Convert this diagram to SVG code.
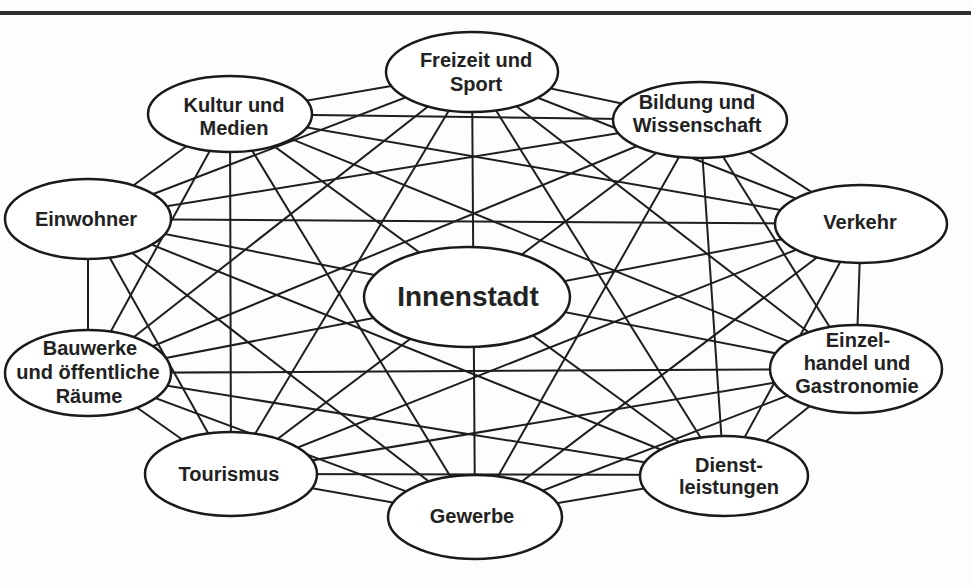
<svg xmlns="http://www.w3.org/2000/svg" width="971" height="587" viewBox="0 0 971 587">
<style>
.bg{fill:#fdfdfd}
.top{stroke:#2e2e2e;stroke-width:4}
.c line{stroke:#1e1e1e;stroke-width:2;stroke-linecap:round}
.n ellipse{fill:#fff;stroke:#1a1a1a;stroke-width:2.5}
.n text{font-family:"Liberation Sans",Arial,sans-serif;font-weight:bold;font-size:20px;fill:#222;text-anchor:middle}
#innenstadt text{font-size:28px}
</style>
<rect class="bg" x="0" y="0" width="971" height="587"/>
<line class="top" x1="0" y1="13" x2="971" y2="13"/>
<g id="connectors" class="c">
<line x1="472" y1="72" x2="700" y2="120"/>
<line x1="472" y1="72" x2="861" y2="224"/>
<line x1="472" y1="72" x2="856" y2="369"/>
<line x1="472" y1="72" x2="724" y2="475"/>
<line x1="472" y1="72" x2="475" y2="517"/>
<line x1="472" y1="72" x2="231" y2="474"/>
<line x1="472" y1="72" x2="88" y2="373"/>
<line x1="472" y1="72" x2="88" y2="219"/>
<line x1="472" y1="72" x2="230" y2="114"/>
<line x1="700" y1="120" x2="861" y2="224"/>
<line x1="700" y1="120" x2="856" y2="369"/>
<line x1="700" y1="120" x2="724" y2="475"/>
<line x1="700" y1="120" x2="475" y2="517"/>
<line x1="700" y1="120" x2="231" y2="474"/>
<line x1="700" y1="120" x2="88" y2="373"/>
<line x1="700" y1="120" x2="88" y2="219"/>
<line x1="700" y1="120" x2="230" y2="114"/>
<line x1="861" y1="224" x2="856" y2="369"/>
<line x1="861" y1="224" x2="724" y2="475"/>
<line x1="861" y1="224" x2="475" y2="517"/>
<line x1="861" y1="224" x2="231" y2="474"/>
<line x1="861" y1="224" x2="88" y2="373"/>
<line x1="861" y1="224" x2="88" y2="219"/>
<line x1="861" y1="224" x2="230" y2="114"/>
<line x1="856" y1="369" x2="724" y2="475"/>
<line x1="856" y1="369" x2="475" y2="517"/>
<line x1="856" y1="369" x2="231" y2="474"/>
<line x1="856" y1="369" x2="88" y2="373"/>
<line x1="856" y1="369" x2="88" y2="219"/>
<line x1="856" y1="369" x2="230" y2="114"/>
<line x1="724" y1="475" x2="475" y2="517"/>
<line x1="724" y1="475" x2="231" y2="474"/>
<line x1="724" y1="475" x2="88" y2="373"/>
<line x1="724" y1="475" x2="88" y2="219"/>
<line x1="724" y1="475" x2="230" y2="114"/>
<line x1="475" y1="517" x2="231" y2="474"/>
<line x1="475" y1="517" x2="88" y2="373"/>
<line x1="475" y1="517" x2="88" y2="219"/>
<line x1="475" y1="517" x2="230" y2="114"/>
<line x1="231" y1="474" x2="88" y2="373"/>
<line x1="231" y1="474" x2="88" y2="219"/>
<line x1="231" y1="474" x2="230" y2="114"/>
<line x1="88" y1="373" x2="88" y2="219"/>
<line x1="88" y1="373" x2="230" y2="114"/>
<line x1="88" y1="219" x2="230" y2="114"/>
</g>
<g id="freizeit" class="n"><ellipse cx="472" cy="72" rx="86" ry="40"/><text x="476" y="67">Freizeit und</text><text x="476" y="91">Sport</text></g>
<g id="bildung" class="n"><ellipse cx="700" cy="120" rx="87" ry="38"/><text x="697" y="109">Bildung und</text><text x="697" y="132">Wissenschaft</text></g>
<g id="verkehr" class="n"><ellipse cx="861" cy="224" rx="86" ry="39"/><text x="860" y="229">Verkehr</text></g>
<g id="einzelhandel" class="n"><ellipse cx="856" cy="369" rx="86" ry="44"/><text x="858" y="347">Einzel-</text><text x="857" y="370">handel und</text><text x="857" y="393">Gastronomie</text></g>
<g id="dienstleistungen" class="n"><ellipse cx="724" cy="476" rx="84" ry="40"/><text x="729" y="472">Dienst-</text><text x="729" y="494">leistungen</text></g>
<g id="gewerbe" class="n"><ellipse cx="475" cy="517" rx="87" ry="42"/><text x="472" y="523">Gewerbe</text></g>
<g id="tourismus" class="n"><ellipse cx="231" cy="474" rx="86" ry="42"/><text x="229" y="481">Tourismus</text></g>
<g id="bauwerke" class="n"><ellipse cx="88" cy="373" rx="83" ry="43"/><text x="90" y="355">Bauwerke</text><text x="88" y="379">und öffentliche</text><text x="89" y="403">Räume</text></g>
<g id="einwohner" class="n"><ellipse cx="88" cy="219" rx="83" ry="40"/><text x="86" y="226">Einwohner</text></g>
<g id="kultur" class="n"><ellipse cx="230" cy="114" rx="82" ry="38"/><text x="234" y="112">Kultur und</text><text x="234" y="135">Medien</text></g>
<g id="innenstadt" class="n"><ellipse cx="467" cy="297" rx="103" ry="50"/><text x="468" y="306">Innenstadt</text></g>
</svg>
